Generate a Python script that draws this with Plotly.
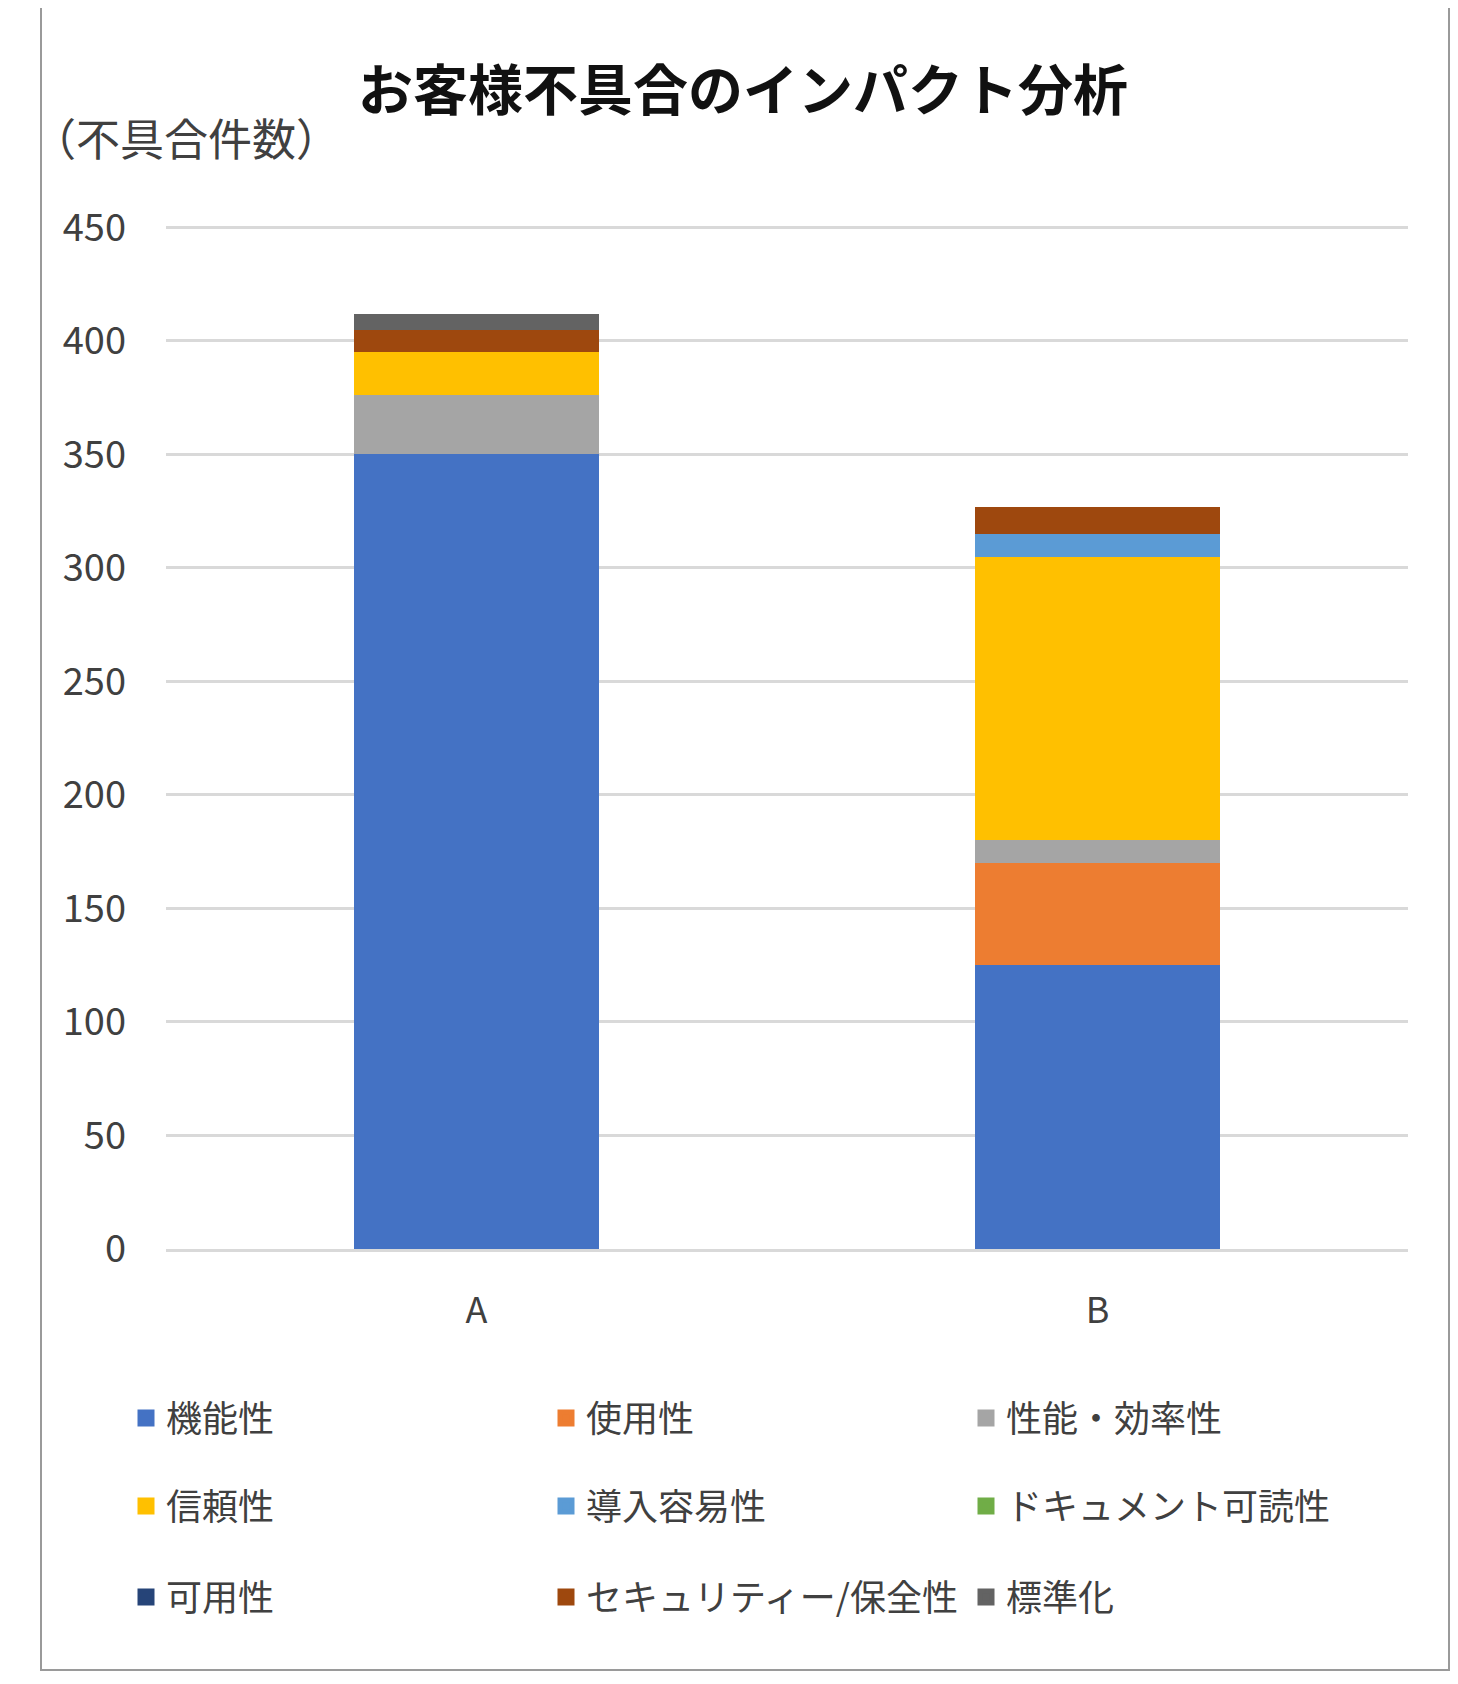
import plotly.graph_objects as go

# categories and stacked series (件数)
categories = ["A", "B"]
series_names = ["機能性", "使用性", "性能・効率性",
                "信頼性", "導入容易性", "ドキュメント可読性",
                "可用性", "セキュリティー/保全性", "標準化"]
functionality = [350, 125]
usability = [0, 45]
performance = [26, 10]
reliability = [19, 125]
installability = [0, 10]
documentation = [0, 0]
availability = [0, 0]
security = [10, 12]
standardization = [7, 0]

colors = ["#4472C4", "#ED7D31", "#A5A5A5",
          "#FFC000", "#5B9BD5", "#70AD47",
          "#264478", "#9E480E", "#636363"]

values = [functionality, usability, performance,
          reliability, installability, documentation,
          availability, security, standardization]

FONT = "Noto Sans CJK JP"
PAGE = 8  # body margin of the html page
W, H = 1458 - 2 * PAGE, 1684 - 2 * PAGE
# plot area in screen pixels: x 166..1408, y 226..1249
L, T = 166 - PAGE, 226 - PAGE
pw, ph = 1242, 1023
R, B = W - L - pw, H - T - ph


def py(pix):
  # screen row -> paper y
  return (T + PAGE + ph - pix) / ph


def px(pix):
  return (pix - L - PAGE) / pw


legends = ["legend", "legend2", "legend3"]

fig = go.Figure()
for i, (name, vals) in enumerate(zip(series_names, values)):
  fig.add_trace(go.Bar(
    x=categories, y=vals, name=name,
    marker=dict(color=colors[i], line=dict(width=0)),
    showlegend=False))

# legend entries only (thicker outline gives a bigger swatch)
for i, name in enumerate(series_names):
  fig.add_trace(go.Bar(
    x=categories, y=[None] * len(categories), name=name,
    marker=dict(color=colors[i], line=dict(color=colors[i], width=5)),
    legend=legends[i // 3], hoverinfo="skip"))

legend_rows = [1418, 1506, 1597]
leg_common = dict(orientation="h", x=px(126), xanchor="left", yanchor="middle",
                  entrywidth=375, entrywidthmode="pixels",
                  font=dict(family=FONT, size=36, color="#404040"),
                  bgcolor="rgba(0,0,0,0)", traceorder="normal")

fig.update_layout(
  width=W, height=H,
  margin=dict(l=L, r=R, t=T, b=B),
  paper_bgcolor="white", plot_bgcolor="white",
  barmode="stack", bargap=0.604,
  font=dict(family=FONT, color="#404040"),
  title=dict(text="お客様不具合のインパクト分析", x=(743 - PAGE) / W, xanchor="center",
             y=1 - (91 - PAGE) / H, yanchor="middle",
             font=dict(family=FONT, size=55, color="#111111", weight="bold")),
  legend=dict(y=py(legend_rows[0]), **leg_common),
  legend2=dict(y=py(legend_rows[1]), **leg_common),
  legend3=dict(y=py(legend_rows[2]), **leg_common),
  xaxis=dict(showgrid=False, showline=True, linecolor="#d9d9d9", linewidth=3,
             ticks="", tickfont=dict(family=FONT, size=36, color="#404040"),
             ticklabelstandoff=28),
  yaxis=dict(range=[0, 450.6], tickvals=list(range(0, 451, 50)), showgrid=True,
             gridcolor="#d9d9d9", gridwidth=3, zeroline=False, showline=False,
             ticks="", tickfont=dict(family=FONT, size=38, color="#404040"),
             ticklabelstandoff=39),
  annotations=[dict(text="（不具合件数）", xref="paper", yref="paper",
                    x=px(30), y=py(137), xanchor="left", yanchor="middle",
                    showarrow=False,
                    font=dict(family=FONT, size=44, color="#404040"))],
  shapes=[dict(type="rect", xref="paper", yref="paper",
               x0=px(41), x1=px(1449), y0=py(1670), y1=py(2),
               line=dict(color="#9a9a9a", width=2), layer="below")],
)

fig.write_html("out.html")
